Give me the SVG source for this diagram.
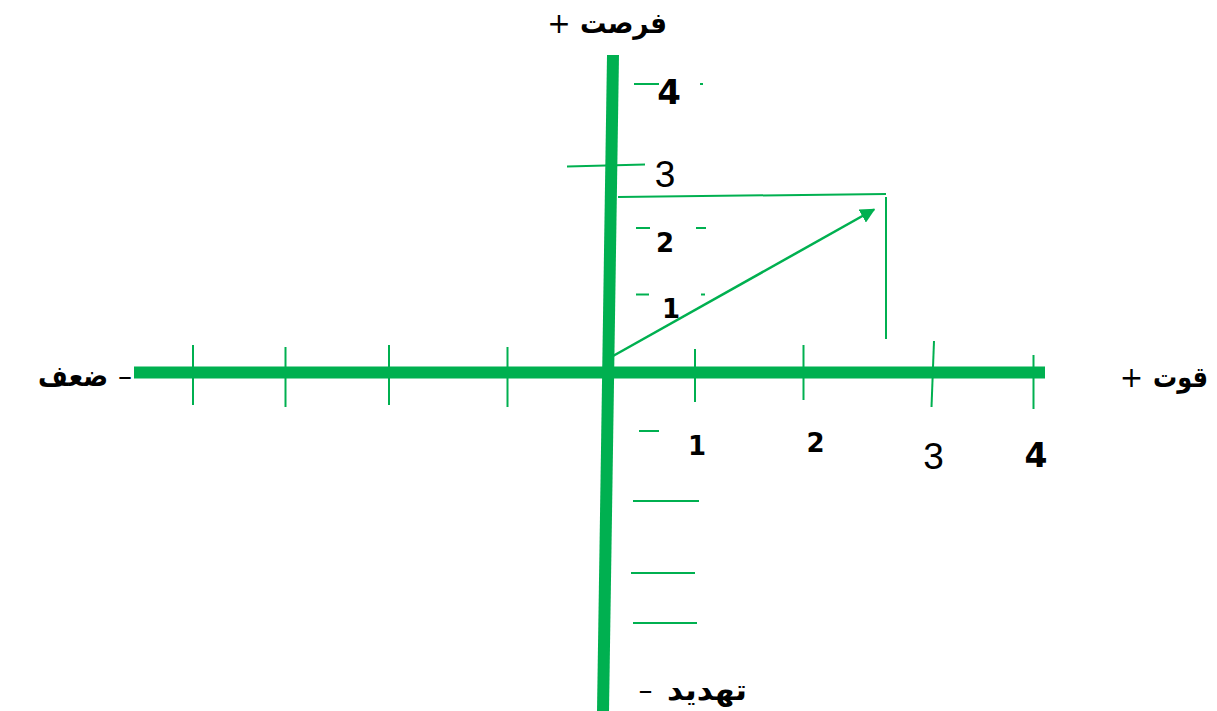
<svg xmlns="http://www.w3.org/2000/svg" width="1217" height="711" viewBox="0 0 1217 711">
<style>
.axis{stroke:#00B050;stroke-width:12;fill:none}
.tick{stroke:#00B050;stroke-width:2;fill:none}
.th{stroke:#00B050;stroke-width:2.5;fill:none}
.lbl{font-family:"DejaVu Sans",sans-serif;font-weight:bold;font-size:29px;fill:#000}
.sg{font-family:"DejaVu Sans",sans-serif;font-size:28px;fill:#000;text-anchor:middle}
.nb{font-family:"DejaVu Sans",sans-serif;font-weight:bold;fill:#000;text-anchor:middle}
.nr{font-family:"Liberation Sans",sans-serif;fill:#000;text-anchor:middle}
</style>
<defs>
<marker id="ah" viewBox="0 0 10 10" refX="9" refY="5" markerWidth="6" markerHeight="6" orient="auto" markerUnits="strokeWidth">
<path d="M0,0 L10,5 L0,10 z" fill="#00B050"/>
</marker>
</defs>
<g id="axes">
<line class="axis" x1="134" y1="372.5" x2="1045" y2="372.5"/>
<line class="axis" x1="613" y1="55" x2="603" y2="711"/>
</g>
<g id="connectors">
<line class="th" x1="613" y1="356" x2="874" y2="209.5" marker-end="url(#ah)"/>
<polyline class="tick" points="618,197 886,194"/>
<line class="tick" x1="886" y1="197" x2="886" y2="339"/>
</g>
<g id="ticks">
<line class="tick" x1="193" y1="345" x2="193" y2="405"/>
<line class="tick" x1="285.5" y1="347" x2="285.5" y2="407"/>
<line class="tick" x1="389" y1="345" x2="389" y2="405"/>
<line class="tick" x1="507.5" y1="347" x2="507.5" y2="407"/>
<line class="tick" x1="695" y1="349" x2="695" y2="402"/>
<line class="tick" x1="803.5" y1="345" x2="803.5" y2="400"/>
<line class="tick" x1="934" y1="341" x2="931.5" y2="407"/>
<line class="tick" x1="1033.5" y1="355" x2="1033.5" y2="409"/>
<line class="tick" x1="634" y1="84" x2="659" y2="84"/>
<line class="tick" x1="700" y1="84" x2="703" y2="84"/>
<line class="tick" x1="567" y1="166.5" x2="645" y2="164.5"/>
<line class="tick" x1="636" y1="228" x2="650" y2="228"/>
<line class="tick" x1="696" y1="228" x2="706" y2="228"/>
<line class="tick" x1="636" y1="294.5" x2="649" y2="294.5"/>
<line class="tick" x1="701" y1="294.5" x2="705" y2="294.5"/>
<line class="tick" x1="639" y1="431" x2="659" y2="431"/>
<line class="tick" x1="633" y1="501" x2="699" y2="501"/>
<line class="tick" x1="631" y1="573" x2="695" y2="573"/>
<line class="tick" x1="633" y1="623" x2="697" y2="623"/>
</g>
<g id="labels">
<text class="sg" x="559" y="33">+</text>
<text class="lbl" x="580" y="33" textLength="87" lengthAdjust="spacingAndGlyphs">فرصت</text>
<text class="lbl" x="38" y="386" textLength="70" lengthAdjust="spacingAndGlyphs">ضعف</text>
<text class="sg" x="125" y="386">–</text>
<text class="sg" x="1131.5" y="387">+</text>
<text class="lbl" x="1153" y="387" textLength="55" lengthAdjust="spacingAndGlyphs">قوت</text>
<text class="sg" x="645.5" y="700">–</text>
<text class="lbl" x="667" y="700" textLength="80" lengthAdjust="spacingAndGlyphs">تهدید</text>
</g>
<g id="numbers">
<text class="nb" x="669" y="104" font-size="34">4</text>
<text class="nr" x="665" y="187" font-size="37">3</text>
<text class="nb" x="665" y="252" font-size="26">2</text>
<text class="nb" x="671" y="318" font-size="26">1</text>
<text class="nb" x="697" y="455" font-size="26">1</text>
<text class="nb" x="815.5" y="452" font-size="26">2</text>
<text class="nr" x="933.5" y="469" font-size="37">3</text>
<text class="nb" x="1036" y="467" font-size="33">4</text>
</g>
</svg>
